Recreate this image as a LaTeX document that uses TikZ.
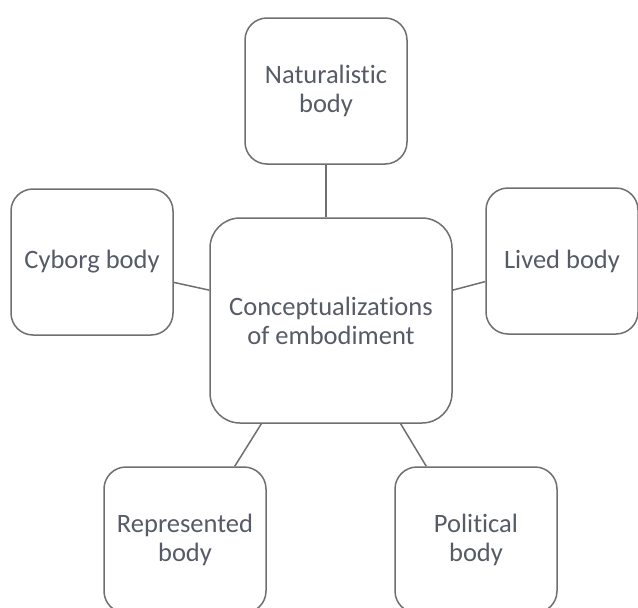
\documentclass[tikz,border=0pt]{standalone}
\usepackage{fontspec}
\setmainfont[Ligatures=NoCommon]{Carlito}
\definecolor{boxline}{HTML}{6E6F73}
\definecolor{boxtext}{HTML}{555B67}
\begin{document}
\begin{tikzpicture}[x=1pt,y=-1pt,
    bodybox/.style={draw=boxline, line width=1.5pt, rounded corners=22pt, fill=white,
      minimum width=162pt, minimum height=146pt, align=center, text=boxtext,
      font=\fontsize{26.5}{29}\selectfont},
    link/.style={draw=boxline, line width=1.5pt}]
    \useasboundingbox (0,0) rectangle (638,608);

    % centre
    \node[bodybox, rounded corners=30pt, minimum width=242pt, minimum height=205pt]
      (ctr) at (331,320.5) {Conceptualizations\\of embodiment};

    % outer boxes
    \node[bodybox] (nat) at (326,91) {Naturalistic\\body};
    \node[bodybox] (cyb) at (92,262) {Cyborg body};
    \node[bodybox, minimum width=152pt] (liv) at (562,261) {Lived body};
    \node[bodybox] (rep) at (185,540) {Represented\\body};
    \node[bodybox] (pol) at (476,540) {Political\\body};

    % links
    \draw[link] (nat.south) -- (nat.south |- ctr.north);
    \foreach \a/\b in {cyb.-14/ctr.166, ctr.14/liv.195, ctr.236/rep.56, ctr.-56/pol.124}{
      \draw[link] (\a) -- (\b);
    }
  \end{tikzpicture}
\end{document}
